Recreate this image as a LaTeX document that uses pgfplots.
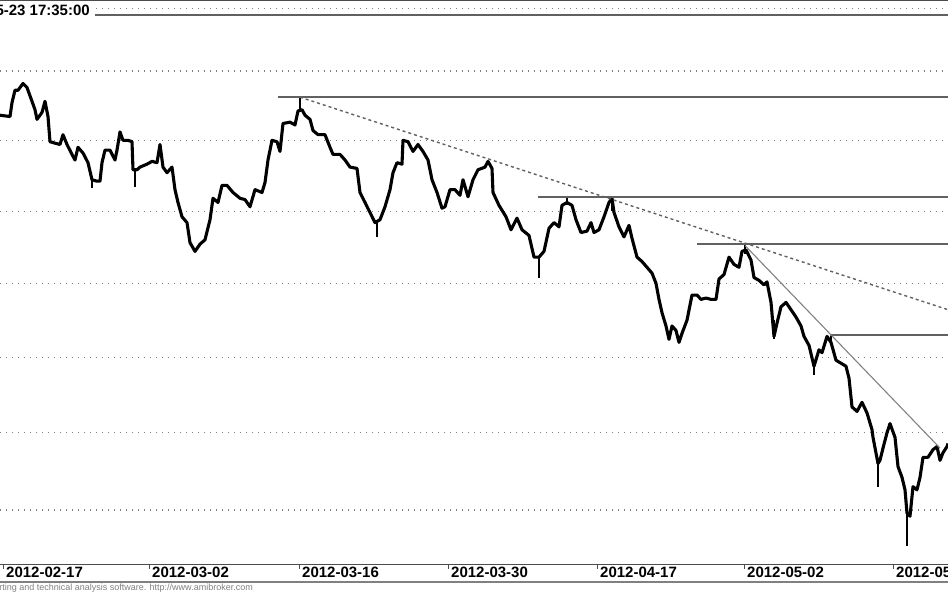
\documentclass[border=0pt]{standalone}
\usepackage{pgfplots}
\pgfplotsset{compat=1.18}
\usepackage{fontspec}
\setmainfont{Liberation Sans}

\definecolor{gridc}{gray}{0.5}
\definecolor{study}{gray}{0.38}
\definecolor{frame}{gray}{0.3}

\begin{document}
\begin{tikzpicture}[x=1pt,y=1pt]
\useasboundingbox (0,0) rectangle (948,593);
\clip (0,0) rectangle (948,593);
\begin{axis}[
  at={(0pt,28pt)}, anchor=south west,
  width=948pt, height=565pt, scale only axis,
  xmin=0, xmax=948,
  % logarithmic price scale
  y coord trafo/.code={\pgfmathparse{ln(#1)}},
  y coord inv trafo/.code={\pgfmathparse{exp(#1)}},
  ymin=2115.1, ymax=2502.3,
  axis line style={draw=none},
  ytick={2150,2200,2250,2300,2350,2400,2450,2496},
  yticklabels={}, ytick style={draw=none},
  ymajorgrids,
  major grid style={gridc, line width=1.1pt, dash pattern=on 1.1pt off 4.9pt},
  xtick={3,149,299,448,597,744,893},
  xticklabels={\textbf{2012-02-17},\textbf{2012-03-02},\textbf{2012-03-16},\textbf{2012-03-30},\textbf{2012-04-17},\textbf{2012-05-02},\textbf{2012-05-09}},
  tick pos=left, tick align=outside,
  major tick length=4pt,
  xtick style={frame, line width=0.8pt},
  xticklabel style={anchor=north west, inner sep=0pt, xshift=3pt, yshift=2pt,
    font=\fontsize{15}{18}\selectfont\bfseries},
]
% price (close), traced
\addplot[black, line width=3.1pt, line join=round] coordinates {
(0,2418) (10,2417) (12,2427) (15,2436) (18,2436) (23,2441) (27,2438) (32,2428)
(35,2422) (37,2415) (42,2420) (45,2428) (48,2417) (50,2399) (55,2398) (60,2397)
(63,2404) (67,2397) (72,2390) (75,2386) (78,2395) (83,2391) (88,2384) (92,2372)
(97,2371) (100,2371) (102,2384) (105,2393) (110,2393) (115,2386) (117,2393) (120,2406)
(123,2400) (128,2400) (132,2399) (133,2379) (137,2379) (140,2381) (147,2383) (152,2385)
(157,2384) (160,2397) (163,2381) (167,2377) (172,2381) (175,2365) (178,2356) (182,2346)
(187,2342) (190,2328) (195,2322) (200,2327) (205,2330) (210,2344) (213,2359) (218,2356)
(222,2368) (227,2368) (233,2363) (240,2359) (245,2358) (250,2353) (255,2365) (262,2363)
(265,2370) (268,2386) (272,2400) (277,2399) (280,2392) (283,2412) (290,2413) (295,2411)
(298,2421) (302,2422) (305,2418) (310,2415) (313,2407) (318,2404) (325,2404) (330,2395)
(333,2390) (340,2390) (345,2386) (350,2381) (357,2380) (360,2363) (365,2356) (370,2349)
(375,2342) (380,2344) (385,2353) (390,2365) (393,2377) (397,2384) (402,2383) (403,2400)
(408,2399) (413,2392) (418,2397) (423,2392) (428,2386) (432,2372) (437,2363) (442,2352)
(445,2353) (450,2365) (455,2365) (460,2361) (463,2372) (468,2360) (473,2372) (478,2379)
(485,2381) (488,2385) (492,2380) (493,2363) (499,2354) (506,2346) (511,2337) (517,2345)
(522,2337) (529,2333) (534,2318) (539,2318) (544,2322) (549,2338) (554,2342) (559,2339)
(562,2354) (567,2356) (572,2354) (576,2344) (581,2335) (587,2336) (591,2342) (594,2335)
(599,2337) (604,2346) (609,2356) (612,2359) (614,2349) (619,2339) (624,2332) (629,2340)
(632,2331) (637,2318) (642,2315) (647,2311) (652,2307) (656,2300) (659,2289) (662,2280)
(666,2271) (669,2262) (672,2271) (676,2268) (679,2260) (682,2266) (687,2275) (692,2292)
(697,2292) (701,2289) (706,2290) (711,2289) (716,2289) (719,2303) (724,2306) (729,2318)
(734,2313) (739,2311) (742,2322) (746,2323) (751,2316) (754,2304) (759,2302) (764,2299)
(767,2301) (771,2287) (774,2264) (777,2273) (781,2284) (786,2287) (791,2282) (796,2277)
(801,2271) (804,2264) (809,2258) (814,2244) (819,2255) (822,2253) (827,2264) (831,2260)
(836,2248) (841,2246) (846,2244) (849,2236) (852,2217) (857,2214) (862,2220) (867,2213)
(872,2202) (873,2197) (878,2180) (880,2182) (883,2190) (887,2200) (890,2206) (895,2197)
(898,2178) (902,2171) (905,2163) (907,2148) (910,2146) (913,2165) (917,2163) (920,2171)
(923,2184) (928,2184) (933,2189) (937,2191) (940,2182) (943,2187) (947,2191) (948,2193)
};
% high-low wicks
\addplot[black, line width=1.3pt, unbounded coords=jump] coordinates {
(92,2372) (92,2366) (92,nan)
(135,2379) (135,2367) (135,nan)
(300,2431) (300,2420) (300,nan)
(377,2342) (377,2332) (377,nan)
(539,2318) (539,2304) (539,nan)
(567,2360) (567,2354) (567,nan)
(612,2360) (612,2350) (612,nan)
(745,2327) (745,2320) (745,nan)
(774,2275) (774,2262) (774,nan)
(814,2244) (814,2238) (814,nan)
(831,2265) (831,2258) (831,nan)
(878,2180) (878,2165) (878,nan)
(907,2153) (907,2127)
};
% horizontal study lines
\addplot[study, line width=1.8pt] coordinates {(95,2491) (948,2491)};
\addplot[study, line width=1.8pt] coordinates {(278,2431) (948,2431)};
\addplot[study, line width=1.8pt] coordinates {(538,2360) (948,2360)};
\addplot[study, line width=1.8pt] coordinates {(697,2327) (948,2327)};
\addplot[study, line width=1.8pt] coordinates {(830,2265) (948,2265)};
% trend lines
\addplot[study, line width=1.4pt, dash pattern=on 3pt off 3pt] coordinates {(300,2431) (948,2282)};
\addplot[study!80, line width=1.1pt] coordinates {(745,2326) (940,2190)};
\draw[frame, line width=3pt] (rel axis cs:0,1) -- (rel axis cs:1,1);
\draw[frame, line width=1.6pt] (rel axis cs:0,0) -- (rel axis cs:1,0);
\end{axis}
\draw[gray, line width=1.6pt] (0,11) -- (948,11);
\node[fill=white, inner xsep=4pt, inner ysep=4pt, anchor=base east,
  font=\fontsize{15}{18}\selectfont\bfseries] at (94,577) {2012-05-23 17:35:00};
\node[anchor=base east, inner sep=0pt, text=gray, font=\fontsize{9}{10}\selectfont]
  at (253,2) {AmiBroker - charting and technical analysis software. http://www.amibroker.com};
\end{tikzpicture}
\end{document}
